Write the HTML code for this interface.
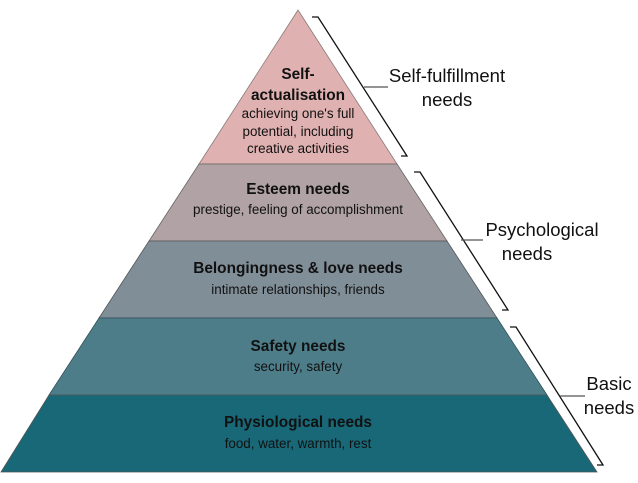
<!DOCTYPE html>
<html><head><style>
body{margin:0;background:#fff;font-family:"Liberation Sans",Arial,Helvetica,sans-serif;}
svg{display:block;}
text{font-family:"Liberation Sans",Arial,Helvetica,sans-serif;}
.b{font-weight:bold;font-size:15.4px;fill:#111;}
.s{font-size:13.4px;fill:#111;}
.l{font-size:18.5px;fill:#111;}
</style></head><body>
<svg width="638" height="483" viewBox="0 0 638 483">
<polygon points="298,10 397,164 199,164" fill="#e0b1b1" stroke="#8a7a7a" stroke-width="0.8"/>
<polygon points="199,164 397,164 447,241 149,241" fill="#b0a2a5" stroke="#666" stroke-width="0.8"/>
<polygon points="149,241 447,241 497,318 99,318" fill="#808e98" stroke="#555" stroke-width="0.8"/>
<polygon points="99,318 497,318 547,395 49,395" fill="#4e7d8a" stroke="#2f4f58" stroke-width="0.8"/>
<polygon points="49,395 547,395 597,472 1,472" fill="#186878" stroke="#555" stroke-width="0.8"/>
<g text-anchor="middle">
<text x="298" y="79" class="b">Self-</text>
<text x="298" y="100" class="b">actualisation</text>
<text x="298" y="118" class="s">achieving one's full</text>
<text x="298" y="136" class="s">potential, including</text>
<text x="298" y="153" class="s">creative activities</text>
<text x="298" y="194" class="b">Esteem needs</text>
<text x="298" y="214" class="s">prestige, feeling of accomplishment</text>
<text x="298" y="273" class="b">Belongingness &amp; love needs</text>
<text x="298" y="294" class="s">intimate relationships, friends</text>
<text x="298" y="351" class="b">Safety needs</text>
<text x="298" y="371" class="s">security, safety</text>
<text x="298" y="427" class="b">Physiological needs</text>
<text x="298" y="448" class="s">food, water, warmth, rest</text>
<text x="447" y="82" class="l">Self-fulfillment</text>
<text x="447" y="106" class="l">needs</text>
<text x="542" y="236" class="l">Psychological</text>
<text x="527" y="260" class="l">needs</text>
<text x="609" y="390" class="l">Basic</text>
<text x="609" y="414" class="l">needs</text>
</g>
<g fill="none" stroke="#111" stroke-width="1.3">
<polyline points="312,17 318,17 407,156 401,156"/>
<polyline points="414,172 420,172 508,310 502,310"/>
<polyline points="510,327 516,327 603,465 597,465"/>
</g>
<g stroke="#555" stroke-width="1.3">
<line x1="364" y1="87" x2="388" y2="87"/>
<line x1="461" y1="240" x2="483" y2="240"/>
<line x1="560" y1="396" x2="585" y2="396"/>
</g>
</svg>
</body></html>
